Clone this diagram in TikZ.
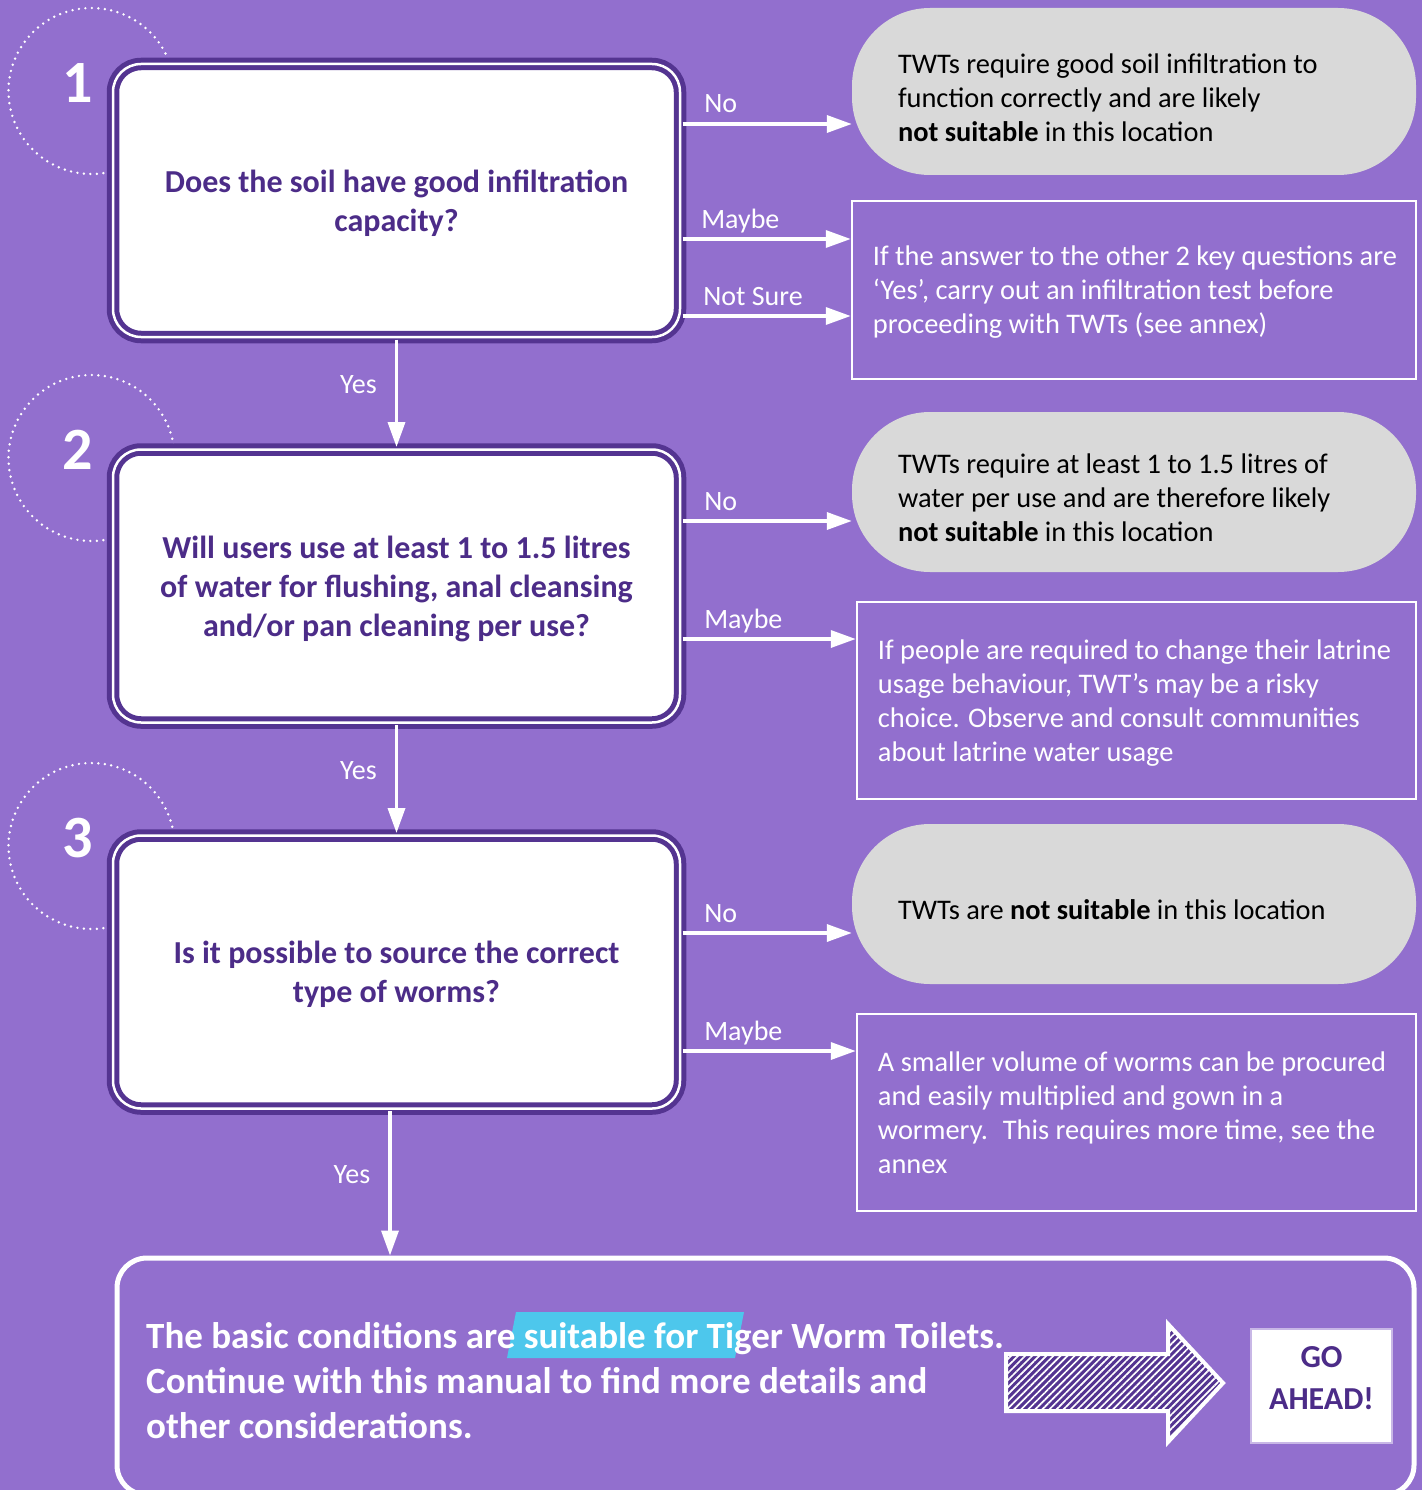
\documentclass[tikz,border=0pt]{standalone}
\usepackage{fontspec}
\setmainfont{Carlito}
\usetikzlibrary{arrows.meta,positioning,patterns.meta}
\definecolor{bgpurple}{RGB}{146,111,206}
\definecolor{darkpurple}{RGB}{84,52,145}
\definecolor{qtext}{RGB}{76,44,136}
\definecolor{pillgrey}{RGB}{217,217,217}
\definecolor{hlcyan}{RGB}{77,199,236}

\begin{document}
\begin{tikzpicture}[x=1pt,y=-1pt,
	question/.style={draw=darkpurple, line width=5pt, double=white, double distance=2.5pt, fill=white,
		rounded corners=28pt, minimum width=567pt, minimum height=273pt, align=center, text=qtext, text depth=0pt,
		font=\fontsize{32}{39}\selectfont\bfseries},
	pillbox/.style={fill=pillgrey, rounded corners=78pt, minimum width=564pt},
	notebox/.style={draw=white, line width=2.5pt, minimum width=559pt},
	answer/.style={align=left, inner sep=0pt, text depth=0pt, font=\fontsize{28.4}{34}\selectfont},
	flow/.style={draw=white, line width=3.5pt, -{Triangle[length=25pt,width=17pt]}},
	lbl/.style={text=white, inner sep=0pt, font=\fontsize{28}{34}\selectfont},
	num/.style={text=white, inner sep=0pt, font=\fontsize{60}{60}\selectfont\bfseries},
	hatcharrow/.style={draw=white, line width=4pt, fill=darkpurple,
		postaction={pattern={Lines[angle=45,distance=5pt,line width=1.7pt]}, pattern color=white}}
	]
\useasboundingbox (0,0) rectangle (1422,1490);
\fill[bgpurple] (0,0) rectangle (1422,1490);
\clip (0,0) rectangle (1422,1490);

\foreach \n/\cy in {1/91,2/458,3/846}{
	\draw[white, line width=2.7pt, line cap=round, dash pattern=on 0pt off 6.5pt] (91.5,\cy) circle[radius=83pt];
	\node[num] (num\n) at (78,\cy-8) {\n};
	}

\node[question] (q1) at (396.5,200.5) {Does the soil have good infiltration\\capacity?};
\node[question] (q2) at (396.5,586) {Will users use at least 1 to 1.5 litres\\of water for flushing, anal cleansing\\and/or pan cleaning per use?};
\node[question] (q3) at (396.5,972) {Is it possible to source the correct\\type of worms?};

\node[pillbox, minimum height=167pt] (n1) at (1134,91.5) {};
\node[answer, right=46pt of n1.west, yshift=-6pt] (n1t) {TWTs require good soil infiltration to\\function correctly and are likely\\\textbf{not suitable} in this location};
\node[pillbox, minimum height=160pt] (n2) at (1134,492) {};
\node[answer, right=46pt of n2.west, yshift=-6pt] (n2t) {TWTs require at least 1 to 1.5 litres of\\water per use and are therefore likely\\\textbf{not suitable} in this location};
\node[pillbox, minimum height=160pt] (n3) at (1134,904) {};
\node[answer, right=46pt of n3.west, yshift=-6pt] (n3t) {TWTs are \textbf{not suitable} in this location};

\node[notebox, minimum width=564pt, minimum height=178pt] (m1) at (1134,290) {};
\node[answer, text=white, right=22pt of m1.west] (m1t) {If the answer to the other 2 key questions are\\‘Yes’, carry out an infiltration test before\\proceeding with TWTs (see annex)};
\node[notebox, minimum height=197pt] (m2) at (1136.5,700.5) {};
\node[answer, text=white, right=22pt of m2.west] (m2t) {If people are required to change their latrine\\usage behaviour, TWT’s may be a risky\\choice. Observe and consult communities\\about latrine water usage};
\node[notebox, minimum height=197pt] (m3) at (1136.5,1112.5) {};
\node[answer, text=white, right=22pt of m3.west] (m3t) {A smaller volume of worms can be procured\\and easily multiplied and gown in a\\wormery.~ This requires more time, see the\\annex};

\draw[flow] (q1.east |- 0,124) -- (n1.west |- 0,124) node[lbl, pos=0, anchor=base west, xshift=20pt, yshift=11pt] {No};
\draw[flow] (q1.east |- 0,239) -- (m1.west |- 0,239) node[lbl, pos=0, anchor=base west, xshift=17pt, yshift=11pt] {Maybe};
\draw[flow] (q1.east |- 0,316) -- (m1.west |- 0,316) node[lbl, pos=0, anchor=base west, xshift=19pt, yshift=11pt] {Not Sure};
\draw[flow] (q2.east |- 0,521) -- (n2.west |- 0,521) node[lbl, pos=0, anchor=base west, xshift=20pt, yshift=11pt] {No};
\draw[flow] (q2.east |- 0,639) -- (m2.west |- 0,639) node[lbl, pos=0, anchor=base west, xshift=20pt, yshift=11pt] {Maybe};
\draw[flow] (q3.east |- 0,933) -- (n3.west |- 0,933) node[lbl, pos=0, anchor=base west, xshift=20pt, yshift=11pt] {No};
\draw[flow] (q3.east |- 0,1051) -- (m3.west |- 0,1051) node[lbl, pos=0, anchor=base west, xshift=20pt, yshift=11pt] {Maybe};

\draw[flow] (q1) -- (q2) node[lbl, midway, anchor=base east, xshift=-18pt] {Yes};
\draw[flow] (q2) -- (q3) node[lbl, midway, anchor=base east, xshift=-18pt] {Yes};

\node[draw=white, line width=5pt, rounded corners=30pt, minimum width=1297pt, minimum height=237pt] (fin) at (765.5,1376.5) {};
\draw[flow] ([xshift=-6.5pt]q3.south) -- ([xshift=-6.5pt]q3.south |- fin.north) node[lbl, midway, anchor=base east, xshift=-18pt] {Yes};

\fill[hlcyan] (516,1312) -- (744,1312) -- (735,1358) -- (507,1358) -- cycle;
\node[answer, text=white, anchor=west, font=\fontsize{37}{45}\selectfont\bfseries] (fint) at (146,1380) {The basic conditions are suitable for Tiger Worm Toilets.\\Continue with this manual to find more details and\\other considerations.};

\draw[hatcharrow] (1006,1354) -- (1168,1354) -- (1168,1324) -- (1223,1383) -- (1168,1442) -- (1168,1411) -- (1006,1411) -- cycle;

\node[fill=white, draw=white, draw opacity=.5, line width=4pt, minimum width=139pt, minimum height=112pt] (go) at (1321.5,1386) {};
\node[align=center, inner sep=0pt, text=qtext, font=\fontsize{32}{42}\selectfont\bfseries] (got) at (1321.5,1378) {GO\\AHEAD!};
\end{tikzpicture}
\end{document}
